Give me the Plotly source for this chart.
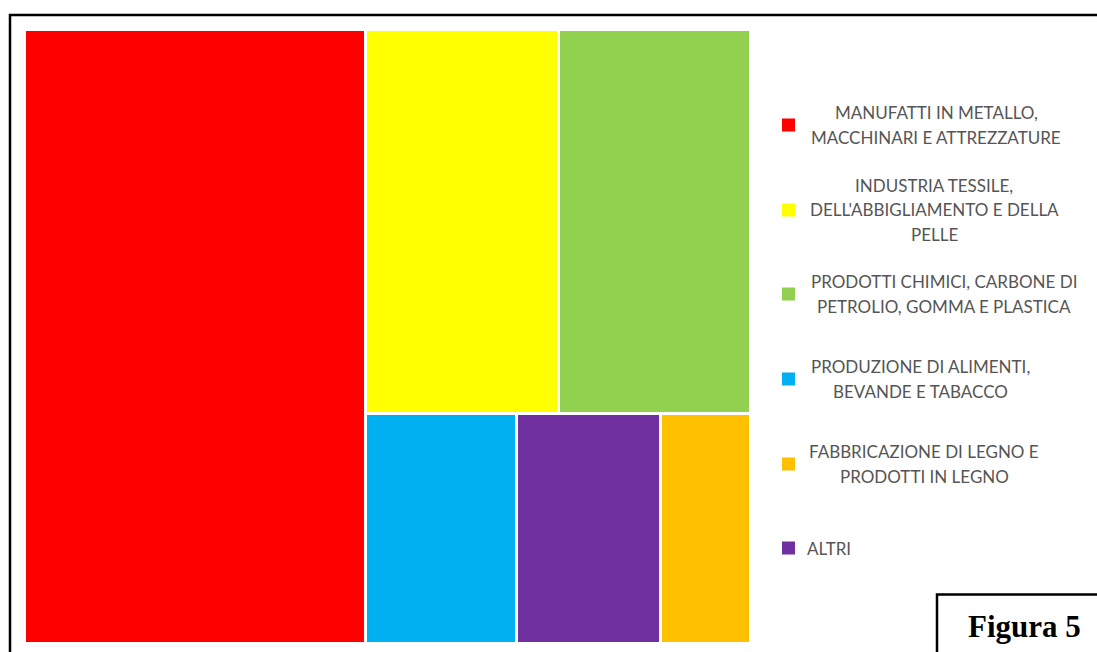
import plotly.graph_objects as go

# ---------------- data ----------------
categories = [
    "MANUFATTI IN METALLO,<br>MACCHINARI E ATTREZZATURE",
    "INDUSTRIA TESSILE,<br>DELL'ABBIGLIAMENTO E DELLA<br>PELLE",
    "PRODOTTI CHIMICI, CARBONE DI<br>PETROLIO, GOMMA E PLASTICA",
    "PRODUZIONE DI ALIMENTI,<br>BEVANDE E TABACCO",
    "FABBRICAZIONE DI LEGNO E<br>PRODOTTI IN LEGNO",
    "ALTRI",
]
values = [47.0, 16.7, 16.5, 7.8, 4.6, 7.4]
colors = ["#FF0000", "#FFFF00", "#92D050", "#00B0F0", "#FFC000", "#7030A0"]
figure_label = "Figura 5"

# ---------------- layout constants ----------------
FW, FH = 1097, 652
W, H = 726.0, 614.0          # treemap container (pixel-proportional units)
PX0, PY0 = 23.8, 28.8        # container top-left in page pixels
GAP = 3.0                    # white gap between tiles


def px(x):
    return x / FW


def py(y):
    return 1 - y / FH


def worst(row_vals, side, scale):
    s = sum(row_vals)
    thick = s * scale / side
    r = 0
    for v in row_vals:
        length = v * scale / thick
        r = max(r, thick / length, length / thick)
    return r


def squarify(items, x, y, w, h, tol=1.02):
    rects = {}
    items = sorted(items, key=lambda t: -t[1])
    total = sum(v for _, v in items)
    scale = w * h / total
    i = 0
    while i < len(items):
        side = min(w, h)
        row = [items[i]]
        cur = worst([v for _, v in row], side, scale)
        j = i + 1
        while j < len(items):
            cand = row + [items[j]]
            r = worst([v for _, v in cand], side, scale)
            if r <= cur * tol:
                row, cur = cand, r
                j += 1
            else:
                break
        s = sum(v for _, v in row)
        thick = s * scale / side
        if w >= h:
            yy = y
            for k, v in row:
                length = v * scale / thick
                rects[k] = (x, yy, thick, length)
                yy += length
            x += thick
            w -= thick
        else:
            xx = x
            for k, v in row:
                length = v * scale / thick
                rects[k] = (xx, y, length, thick)
                xx += length
            y += thick
            h -= thick
        i = j
    return rects


rects = squarify(list(enumerate(values)), 0.0, 0.0, W, H)

fig = go.Figure()
for k, (cat, col) in enumerate(zip(categories, colors)):
    x0, y0, w, h = rects[k]
    fig.add_trace(go.Bar(
        x=[x0 + w / 2], y=[h - GAP], base=[y0 + GAP / 2], width=[w - GAP],
        marker=dict(color=col, line=dict(width=0)),
        name=cat.replace("<br>", " "), showlegend=False,
        hovertemplate=cat.replace("<br>", " ") + ": %{customdata}<extra></extra>",
        customdata=[values[k]],
    ))

shapes = []
annotations = []

# outer frame
shapes.append(dict(type="rect", xref="paper", yref="paper",
                   x0=px(10), x1=px(1120), y0=py(700), y1=py(15),
                   line=dict(color="black", width=2.5), fillcolor="rgba(0,0,0,0)",
                   layer="above"))

# custom legend
legend_y = [125, 210, 294, 379, 464, 548]
legend_cx = [936, 934, 944, 920, 924, None]
LINE = 24.5
FONT = dict(family="Lato", size=17, color="#555555")
for k, cat in enumerate(categories):
    cy = legend_y[k]
    shapes.append(dict(type="rect", xref="paper", yref="paper",
                       x0=px(782), x1=px(795), y0=py(cy + 6.5), y1=py(cy - 6.5),
                       fillcolor=colors[k], line=dict(width=0)))
    lines = cat.split("<br>")
    n = len(lines)
    for i, ln in enumerate(lines):
        ly = cy + (i - (n - 1) / 2) * LINE
        if legend_cx[k] is None:
            annotations.append(dict(text=ln, xref="paper", yref="paper",
                                    x=px(805), y=py(ly), xanchor="left", yanchor="middle",
                                    showarrow=False, font=FONT))
        else:
            annotations.append(dict(text=ln, xref="paper", yref="paper",
                                    x=px(legend_cx[k]), y=py(ly), xanchor="center",
                                    yanchor="middle", showarrow=False, font=FONT))

# Figura box
shapes.append(dict(type="rect", xref="paper", yref="paper",
                   x0=px(937), x1=px(1120), y0=py(700), y1=py(594.5),
                   line=dict(color="black", width=2.5), fillcolor="white", layer="above"))
annotations.append(dict(text="<b>" + figure_label + "</b>", xref="paper", yref="paper",
                        x=px(1024), y=py(626), xanchor="center", yanchor="middle",
                        showarrow=False,
                        font=dict(family="Liberation Serif", size=31, color="black")))

fig.update_layout(
    width=FW, height=FH,
    margin=dict(l=0, r=0, t=0, b=0),
    paper_bgcolor="white", plot_bgcolor="white",
    barmode="overlay", bargap=0,
    xaxis=dict(range=[0, W], domain=[px(PX0), px(PX0 + W)],
               visible=False, showline=False, zeroline=False, showgrid=False,
               fixedrange=True),
    yaxis=dict(range=[H, 0], domain=[py(PY0 + H), py(PY0)],
               visible=False, showline=False, zeroline=False, showgrid=False,
               fixedrange=True),
    shapes=shapes, annotations=annotations,
    showlegend=False,
)

fig.write_html("out.html")
